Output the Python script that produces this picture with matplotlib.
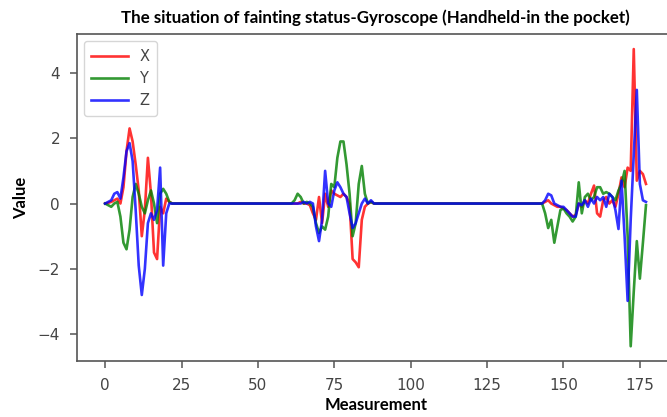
import matplotlib
matplotlib.use("Agg")
import matplotlib.pyplot as plt
import numpy as np

# Gyroscope readings (rad/s) for each measurement index, three axes.
# Samples 0-22: first fall burst
gyro_x_a = [0.0, 0.02, 0.05, 0.1, 0.15, 0.0, 0.5, 1.6, 2.3, 1.9, 1.2, 0.4,
            -1.0, -0.2, 1.4, 0.3, -1.5, -1.7, -0.1, -0.3, 0.15, 0.05, 0.0]
gyro_y_a = [0.0, -0.05, -0.1, 0.0, 0.05, -0.4, -1.2, -1.4, -0.8, 0.2, 0.6, 0.3,
            -0.1, -0.3, 0.1, 0.4, 0.0, -0.6, 0.3, 0.45, 0.3, 0.05, 0.0]
gyro_z_a = [0.0, 0.05, 0.1, 0.3, 0.35, 0.15, 0.8, 1.6, 1.85, 1.3, -0.2, -1.9,
            -2.8, -2.0, -0.6, -0.3, -0.5, -0.2, 1.1, -1.9, -0.3, 0.0, 0.0]

# Samples 23-61: lying still
rest_1 = [0.0, 0.0, 0.0, 0.0, 0.0, 0.0, 0.0, 0.0, 0.0, 0.0, 0.0, 0.0, 0.0,
          0.0, 0.0, 0.0, 0.0, 0.0, 0.0, 0.0, 0.0, 0.0, 0.0, 0.0, 0.0, 0.0,
          0.0, 0.0, 0.0, 0.0, 0.0, 0.0, 0.0, 0.0, 0.0, 0.0, 0.0, 0.0, 0.0]

# Samples 62-89: second movement
gyro_x_c = [0.0, 0.0, 0.05, 0.0, 0.0, -0.05, -0.3, -0.5, 0.2, -0.6, 0.3, -0.1,
            0.4, 0.3, 0.25, 0.2, 0.3, 0.2, 0.0, -1.7, -1.8, -1.95, -0.5, -0.1,
            0.0, 0.05, 0.0, 0.0]
gyro_y_c = [0.1, 0.3, 0.2, 0.0, 0.05, 0.0, -0.1, -0.6, -0.9, -0.7, -0.8, -0.4,
            0.6, 0.5, 1.4, 1.9, 1.9, 1.2, 0.3, -1.0, -0.6, 0.6, 1.15, 0.3,
            0.0, 0.05, 0.0, 0.0]
gyro_z_c = [0.0, 0.0, 0.0, 0.05, 0.0, 0.05, 0.0, -0.7, -1.15, -0.5, 1.0, 0.0,
            -0.1, 0.4, 0.65, 0.5, 0.3, 0.2, -0.3, -0.75, -0.6, -0.3, 0.0, 0.15,
            0.0, 0.1, 0.0, 0.0]

# Samples 90-142: lying still
rest_2 = [0.0, 0.0, 0.0, 0.0, 0.0, 0.0, 0.0, 0.0, 0.0, 0.0, 0.0, 0.0, 0.0,
          0.0, 0.0, 0.0, 0.0, 0.0, 0.0, 0.0, 0.0, 0.0, 0.0, 0.0, 0.0, 0.0,
          0.0, 0.0, 0.0, 0.0, 0.0, 0.0, 0.0, 0.0, 0.0, 0.0, 0.0, 0.0, 0.0,
          0.0, 0.0, 0.0, 0.0, 0.0, 0.0, 0.0, 0.0, 0.0, 0.0, 0.0, 0.0, 0.0,
          0.0]

# Samples 143-177: final burst
gyro_x_e = [0.0, 0.05, 0.1, 0.0, -0.05, -0.1, -0.1, -0.15, -0.2, -0.3, -0.4,
            -0.35, 0.0, -0.1, 0.1, 0.0, 0.3, 0.55, -0.3, -0.4, 0.1, 0.2, 0.0,
            0.1, -0.1, 0.3, 0.8, 0.5, 1.1, 1.0, 4.73, 0.7, 1.0, 0.9, 0.6]
gyro_y_e = [0.0, -0.3, -0.75, -0.5, -1.2, -0.7, -0.2, -0.15, -0.3, -0.4, -0.55,
            -0.4, 0.65, -0.3, 0.2, 0.3, 0.1, 0.2, 0.5, 0.5, 0.3, 0.35, 0.3,
            0.2, 0.1, 0.4, 0.6, 1.0, -1.0, -4.37, -2.7, -1.15, -2.3, -1.2, -0.05]
gyro_z_e = [0.0, 0.1, 0.3, 0.25, 0.0, -0.05, -0.1, -0.1, -0.2, -0.3, -0.4,
            -0.4, 0.0, -0.05, 0.1, -0.1, 0.15, 0.0, 0.2, 0.1, 0.2, -0.1, 0.3,
            0.2, -0.2, -0.78, 0.7, -1.0, -2.98, -0.5, 1.5, 3.48, 0.6, 0.1, 0.05]

gyro_x = gyro_x_a + rest_1 + gyro_x_c + rest_2 + gyro_x_e
gyro_y = gyro_y_a + rest_1 + gyro_y_c + rest_2 + gyro_y_e
gyro_z = gyro_z_a + rest_1 + gyro_z_c + rest_2 + gyro_z_e
measurement = np.arange(len(gyro_x))

series_labels = ["X", "Y", "Z"]
series_colors = ["red", "green", "blue"]

fig = plt.figure(figsize=(6.67, 4.17), dpi=100)
ax = fig.add_axes([0.115, 0.134, 0.897, 0.784])

for vals, lab, col in zip([gyro_x, gyro_y, gyro_z], series_labels, series_colors):
    ax.plot(measurement, vals, color=col, lw=1.9, alpha=0.8, label=lab)

ax.set_xlim(-9.3, 186.5)
ax.set_xticks([0, 25, 50, 75, 100, 125, 150, 175])
ax.set_yticks([-4, -2, 0, 2, 4])

grey = "#555555"
for sp in ax.spines.values():
    sp.set_color(grey)
    sp.set_linewidth(1.2)
ax.tick_params(colors=grey, labelcolor="#444444", labelsize=11, length=5,
               width=1.1, pad=7)

label_font = dict(family="Lato", weight="bold", size=12)
ax.set_title("The situation of fainting status-Gyroscope (Handheld-in the pocket)",
             fontdict=dict(family="Lato", weight="bold", size=12.2), pad=8)
ax.set_xlabel("Measurement", fontdict=label_font, labelpad=3)
ax.set_ylabel("Value", fontdict=label_font, labelpad=6)

leg = ax.legend(loc="upper left", fontsize=10.5, handlelength=2.5,
                labelspacing=0.5, borderpad=0.5, frameon=True)
leg.get_frame().set_edgecolor("#cccccc")
for t in leg.get_texts():
    t.set_color("#444444")

fig.savefig("out.png", dpi=100)
